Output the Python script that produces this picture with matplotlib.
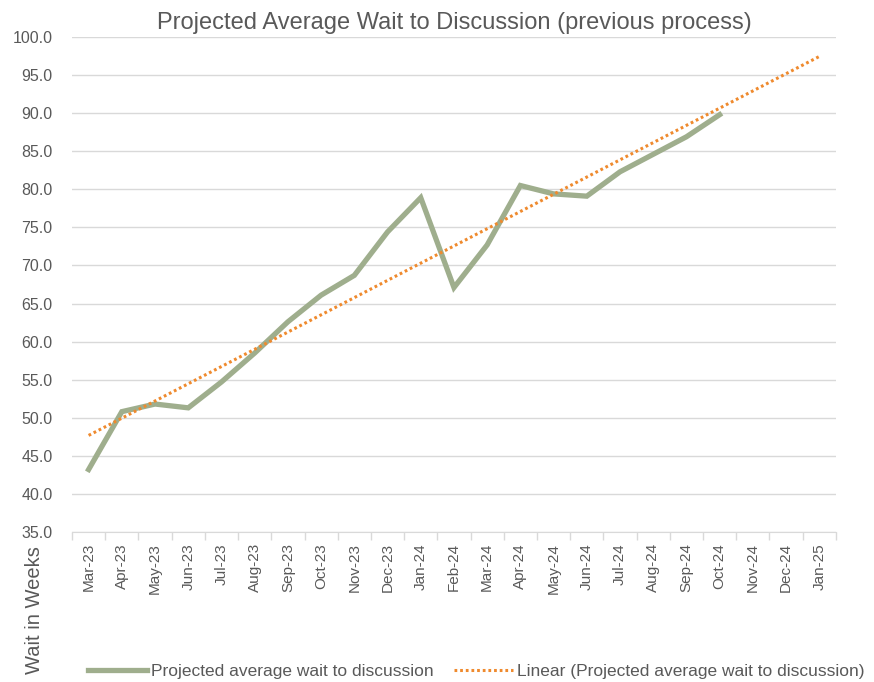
import numpy as np
import matplotlib
matplotlib.use("Agg")
import matplotlib.pyplot as plt

# month labels (trend forecast runs three months past the data)
months = ["Mar-23", "Apr-23", "May-23", "Jun-23", "Jul-23", "Aug-23", "Sep-23",
          "Oct-23", "Nov-23", "Dec-23", "Jan-24", "Feb-24", "Mar-24", "Apr-24",
          "May-24", "Jun-24", "Jul-24", "Aug-24", "Sep-24", "Oct-24", "Nov-24",
          "Dec-24", "Jan-25"]
wait_weeks = [43.2, 50.8, 51.8, 51.3, 54.7, 58.5, 62.6, 66.1, 68.7, 74.4,
              78.9, 67.1, 72.7, 80.5, 79.4, 79.1, 82.3, 84.6, 86.9, 89.8]

plt.rcParams['font.family'] = ['Liberation Sans', 'DejaVu Sans']
grey = "#595959"

fig = plt.figure(figsize=(8.74, 6.82), dpi=100)
ax = fig.add_axes([0.0824, 0.22, 0.874, 0.7257])

x_data = np.arange(len(wait_weeks))
x_all = np.arange(len(months))

# linear trendline fitted on the data, extended forward
slope, intercept = np.polyfit(x_data, wait_weeks, 1)
trend = slope * x_all + intercept

ax.plot(x_data, wait_weeks, color="#9fae8d", lw=3.8, solid_joinstyle="miter",
        label="Projected average wait to discussion", zorder=3)
ax.plot(x_all, trend, color="#ef8a2e", lw=2.2, linestyle=(0, (0.9, 0.95)),
        dash_capstyle="butt",
        label="Linear (Projected average wait to discussion)", zorder=4)

ax.set_xlim(-0.5, len(months) - 0.5)
ax.set_ylim(35, 100)
ax.set_yticks(np.arange(35, 101, 5))
ax.set_yticklabels([f"{v:.1f}" for v in np.arange(35, 101, 5)], fontsize=11.5, color=grey)
ax.set_xticks(x_all)
ax.set_xticklabels(months, rotation=90, fontsize=11, color=grey)
ax.set_xticks(np.arange(-0.5, len(months)), minor=True)
ax.tick_params(axis="x", which="major", length=0, pad=8)
ax.tick_params(axis="x", which="minor", length=6, color="#d9d9d9", width=1)
ax.tick_params(axis="y", length=0, pad=14)

ax.grid(axis="y", color="#d9d9d9", lw=1)
ax.set_axisbelow(True)
for s in ["top", "right", "left"]:
    ax.spines[s].set_visible(False)
ax.spines["bottom"].set_color("#d9d9d9")

fig.text(0.52, 0.967, "Projected Average Wait to Discussion (previous process)",
         ha="center", va="center", fontsize=17, color=grey)
fig.text(0.04, 0.105, "Wait in Weeks", rotation=90, ha="center", va="center",
         fontsize=14.5, color=grey)

fig.legend(loc="center", bbox_to_anchor=(0.545, 0.015), ncol=2, frameon=False,
           fontsize=12.5, labelcolor=grey, handlelength=3.4, columnspacing=1.2,
           handletextpad=0.2)

fig.savefig("out.png", dpi=100)
